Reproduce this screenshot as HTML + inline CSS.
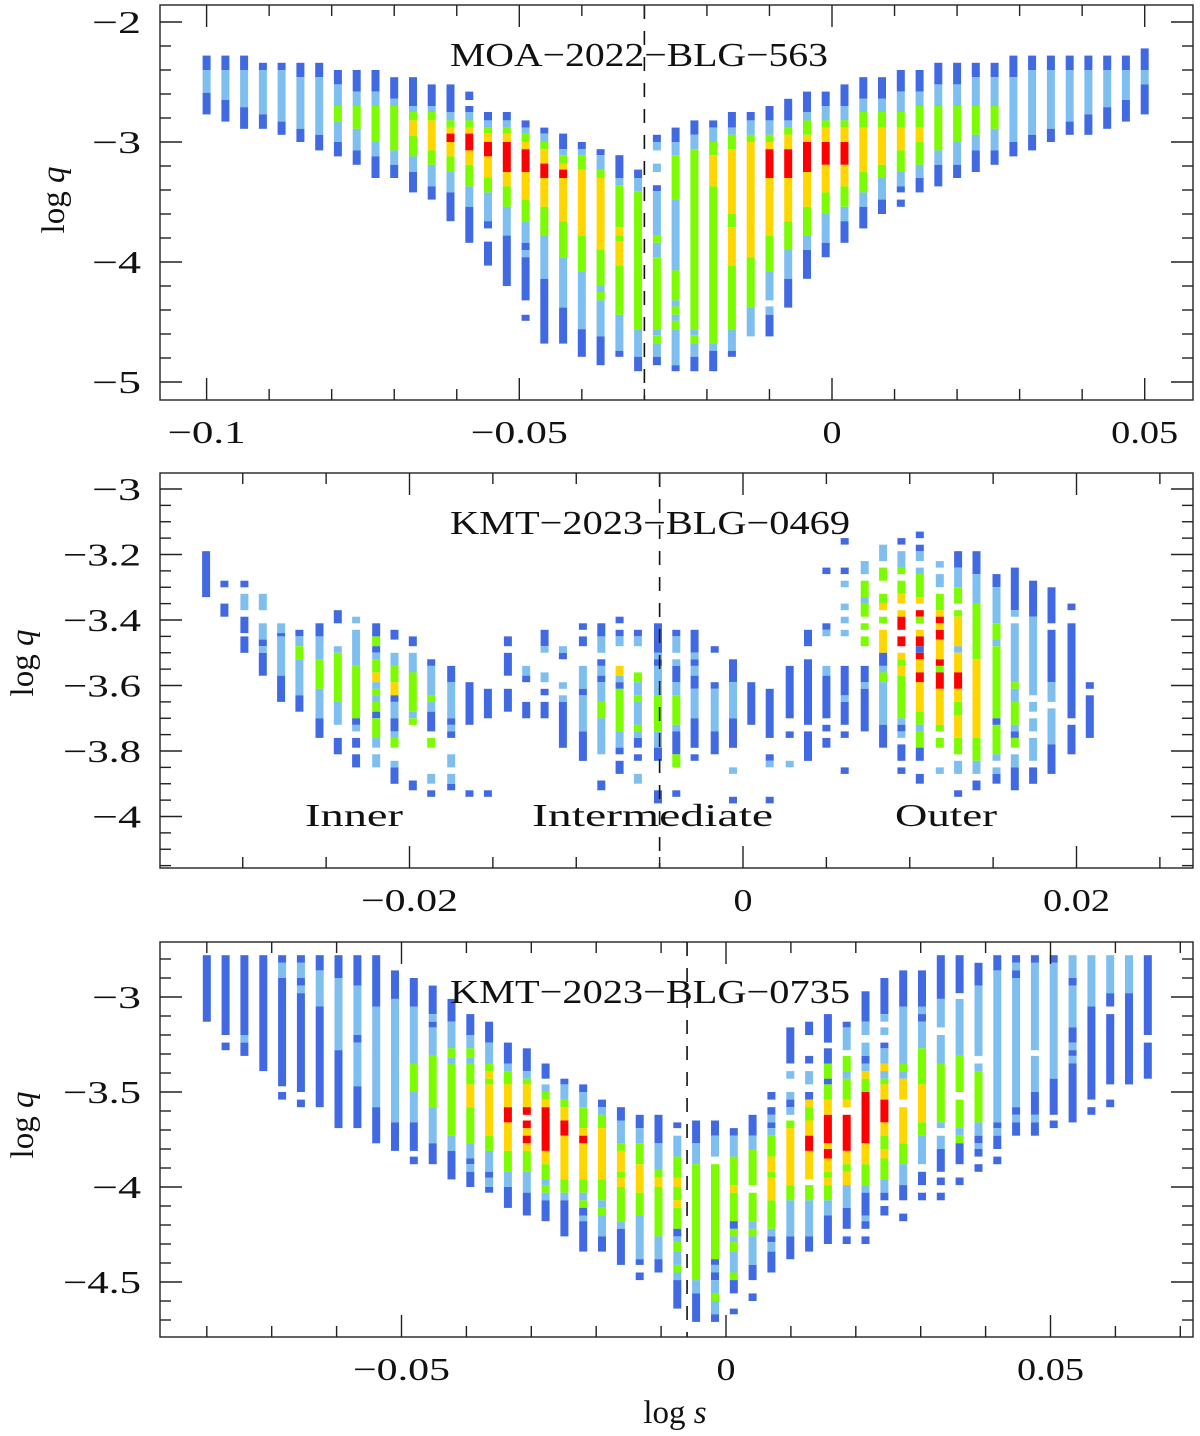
<!DOCTYPE html>
<html><head><meta charset="utf-8">
<style>
html,body{margin:0;padding:0;background:#fff;}
svg{display:block;}
text{font-family:"Liberation Serif",serif;fill:#111;}
</style></head>
<body>
<svg id="fig" width="1200" height="1436" viewBox="0 0 1200 1436" xmlns="http://www.w3.org/2000/svg"></svg>
<script>
// ---------- Panel 1: MOA-2022-BLG-563 ----------
const p1LogS = [-0.100,-0.097,-0.094,-0.091,-0.088,-0.085,-0.082,-0.079,-0.076,-0.073,-0.070,-0.067,-0.064,-0.061,-0.058,-0.055,-0.052,-0.049,-0.046,-0.043,-0.040,-0.037,-0.034,-0.031,-0.028,-0.025,-0.022,-0.019,-0.016,-0.013,-0.010,-0.007,-0.004,-0.001,0.002,0.005,0.008,0.011,0.014,0.017,0.020,0.023,0.026,0.029,0.032,0.035,0.038,0.041,0.044,0.047,0.050];
const p1Segments = [
[-2.28,'b',-2.40,'l',-2.59,'b',-2.77],
[-2.28,'b',-2.40,'l',-2.65,'b',-2.83],
[-2.28,'b',-2.40,'l',-2.71,'b',-2.89],
[-2.34,'b',-2.40,'l',-2.77,'b',-2.89],
[-2.34,'b',-2.40,'l',-2.83,'b',-2.94],
[-2.34,'b',-2.46,'l',-2.89,'b',-3.00],
[-2.34,'b',-2.46,'l',-2.94,'b',-3.07],
[-2.40,'b',-2.52,'l',-2.70,'g',-2.83,'l',-3.00,'b',-3.12],
[-2.40,'b',-2.58,'l',-2.70,'g',-2.89,'l',-3.07,'b',-3.19],
[-2.40,'b',-2.58,'l',-2.70,'g',-3.00,'l',-3.12,'b',-3.30],
[-2.46,'b',-2.64,'l',-2.70,'g',-3.07,'l',-3.19,'b',-3.30],
[-2.46,'b',-2.70,'l',-2.75,'g',-2.82,'y',-2.95,'g',-3.12,'l',-3.25,'b',-3.42],
[-2.52,'b',-2.70,'l',-2.75,'g',-2.82,'y',-3.07,'g',-3.19,'l',-3.37,'b',-3.48],
[-2.52,'b',-2.75,'l',-2.82,'g',-2.88,'y',-2.93,'r',-3.00,'y',-3.12,'g',-3.25,'l',-3.42,'b',-3.66],
[-2.58,'b',-2.65,'w',-2.70,'b',-2.75,'l',-2.82,'g',-2.88,'y',-2.93,'r',-3.07,'y',-3.19,'g',-3.37,'l',-3.54,'b',-3.84],
[-2.75,'b',-2.82,'l',-2.88,'g',-2.93,'y',-3.00,'r',-3.12,'y',-3.30,'g',-3.42,'l',-3.66,'b',-3.72,'w',-3.83,'b',-4.03],
[-2.75,'b',-2.82,'l',-2.88,'g',-2.93,'y',-3.00,'r',-3.25,'y',-3.37,'g',-3.54,'l',-3.78,'b',-4.20],
[-2.82,'b',-2.88,'l',-2.93,'g',-3.00,'y',-3.06,'r',-3.25,'y',-3.48,'g',-3.66,'l',-3.84,'b',-3.90,'l',-3.96,'b',-4.32,'w',-4.44,'b',-4.49],
[-2.88,'b',-2.93,'l',-3.00,'g',-3.06,'y',-3.18,'r',-3.30,'y',-3.54,'g',-3.78,'l',-4.14,'b',-4.68],
[-2.93,'b',-3.06,'l',-3.11,'g',-3.18,'y',-3.23,'r',-3.30,'y',-3.66,'g',-3.96,'l',-4.38,'b',-4.68],
[-3.00,'b',-3.06,'l',-3.11,'g',-3.23,'y',-3.78,'g',-4.08,'l',-4.56,'b',-4.79],
[-3.06,'b',-3.11,'l',-3.23,'g',-3.30,'y',-3.90,'g',-4.20,'l',-4.25,'g',-4.32,'l',-4.62,'b',-4.86],
[-3.11,'b',-3.30,'l',-3.36,'g',-3.71,'y',-3.78,'g',-3.83,'y',-4.03,'g',-4.44,'l',-4.74,'b',-4.79],
[-3.23,'b',-3.30,'l',-3.41,'g',-4.56,'l',-4.79,'b',-4.91],
[-2.94,'b',-3.00,'l',-3.07,'w',-3.18,'l',-3.25,'w',-3.36,'b',-3.41,'l',-3.78,'g',-3.84,'l',-3.96,'g',-4.56,'l',-4.61,'g',-4.68,'l',-4.79,'b',-4.86],
[-2.88,'b',-3.00,'l',-3.11,'g',-3.48,'l',-4.07,'g',-4.32,'l',-4.37,'g',-4.44,'l',-4.49,'g',-4.56,'l',-4.86,'b',-4.91],
[-2.82,'b',-2.94,'l',-3.06,'g',-4.56,'l',-4.61,'g',-4.68,'l',-4.79,'b',-4.91],
[-2.82,'b',-2.88,'l',-3.00,'g',-3.11,'y',-3.37,'g',-4.68,'l',-4.74,'b',-4.91],
[-2.75,'b',-2.88,'l',-2.94,'g',-3.06,'y',-3.60,'g',-3.71,'y',-4.03,'g',-4.56,'l',-4.74,'b',-4.79],
[-2.75,'b',-2.82,'l',-2.94,'g',-3.00,'y',-3.96,'g',-4.38,'l',-4.62],
[-2.70,'b',-2.82,'l',-2.94,'g',-3.00,'y',-3.06,'r',-3.30,'y',-3.78,'g',-4.08,'l',-4.32,'w',-4.37,'l',-4.44,'b',-4.62],
[-2.64,'b',-2.82,'l',-2.88,'g',-2.94,'y',-3.06,'r',-3.30,'y',-3.66,'g',-3.90,'l',-4.14,'b',-4.38],
[-2.58,'b',-2.75,'l',-2.82,'g',-2.94,'y',-3.00,'r',-3.25,'y',-3.54,'g',-3.78,'l',-3.90,'b',-4.14],
[-2.58,'b',-2.70,'l',-2.82,'g',-2.88,'y',-3.00,'r',-3.19,'y',-3.42,'g',-3.60,'l',-3.84,'b',-3.96],
[-2.52,'b',-2.70,'l',-2.82,'g',-2.88,'y',-3.00,'r',-3.19,'y',-3.37,'g',-3.54,'l',-3.66,'b',-3.84],
[-2.46,'b',-2.64,'l',-2.75,'g',-2.88,'y',-3.25,'g',-3.42,'l',-3.54,'b',-3.72],
[-2.46,'b',-2.64,'l',-2.75,'g',-2.88,'y',-3.19,'g',-3.30,'l',-3.48,'b',-3.60],
[-2.40,'b',-2.58,'l',-2.75,'g',-2.88,'y',-3.07,'g',-3.25,'l',-3.37,'b',-3.42,'w',-3.48,'b',-3.54],
[-2.40,'b',-2.58,'l',-2.70,'g',-2.88,'y',-3.00,'g',-3.19,'l',-3.30,'b',-3.42],
[-2.34,'b',-2.52,'l',-2.70,'g',-3.07,'l',-3.19,'b',-3.37],
[-2.34,'b',-2.52,'l',-2.70,'g',-3.00,'l',-3.19,'b',-3.30],
[-2.34,'b',-2.46,'l',-2.70,'g',-2.94,'l',-3.07,'b',-3.25],
[-2.34,'b',-2.46,'l',-2.70,'g',-2.89,'l',-3.07,'b',-3.19],
[-2.28,'b',-2.46,'l',-3.00,'b',-3.12],
[-2.28,'b',-2.40,'l',-2.94,'b',-3.07],
[-2.28,'b',-2.40,'l',-2.89,'b',-3.00],
[-2.28,'b',-2.40,'l',-2.83,'b',-2.94],
[-2.28,'b',-2.40,'l',-2.77,'b',-2.94],
[-2.28,'b',-2.40,'l',-2.71,'b',-2.89],
[-2.28,'b',-2.40,'l',-2.65,'b',-2.83],
[-2.22,'b',-2.40,'l',-2.52,'b',-2.77]
];
const p1XTicks = [-0.1,-0.05,0,0.05];
const p1XTickLabels = ['\u22120.1','\u22120.05','0','0.05'];
const p1YTicks = [-2,-3,-4,-5];
const p1YTickLabels = ['\u22122','\u22123','\u22124','\u22125'];

// ---------- Panel 2: KMT-2023-BLG-0469 ----------
const p2LogS = [-0.0322,-0.0311,-0.0299,-0.0288,-0.0277,-0.0266,-0.0254,-0.0243,-0.0232,-0.0220,-0.0209,-0.0198,-0.0187,-0.0175,-0.0164,-0.0153,-0.0141,-0.0130,-0.0119,-0.0108,-0.0096,-0.0085,-0.0074,-0.0063,-0.0051,-0.0040,-0.0029,-0.0017,-0.0006,0.0005,0.0016,0.0028,0.0039,0.0050,0.0061,0.0073,0.0084,0.0095,0.0106,0.0118,0.0129,0.0140,0.0152,0.0163,0.0174,0.0185,0.0197,0.0208];
const p2Segments = [
[-3.19,'b',-3.33],
[-3.28,'b',-3.30,'w',-3.35,'b',-3.39],
[-3.28,'b',-3.30,'w',-3.32,'l',-3.37,'w',-3.39,'b',-3.44,'w',-3.45,'b',-3.50],
[-3.32,'l',-3.37,'w',-3.41,'l',-3.46,'b',-3.48,'l',-3.50,'b',-3.57],
[-3.41,'l',-3.44,'b',-3.45,'l',-3.57,'b',-3.65],
[-3.43,'b',-3.45,'l',-3.48,'g',-3.52,'l',-3.63,'b',-3.68],
[-3.41,'b',-3.45,'l',-3.52,'g',-3.61,'l',-3.70,'b',-3.76],
[-3.37,'b',-3.41,'w',-3.48,'l',-3.50,'g',-3.65,'l',-3.72,'w',-3.76,'b',-3.81],
[-3.39,'l',-3.41,'w',-3.43,'l',-3.54,'g',-3.70,'b',-3.72,'l',-3.74,'w',-3.76,'b',-3.79,'w',-3.81,'b',-3.85],
[-3.41,'b',-3.45,'g',-3.48,'b',-3.50,'l',-3.52,'g',-3.56,'y',-3.59,'l',-3.61,'g',-3.63,'l',-3.65,'g',-3.68,'b',-3.70,'g',-3.76,'l',-3.79,'w',-3.81,'l',-3.85],
[-3.43,'b',-3.46,'w',-3.50,'l',-3.54,'g',-3.59,'y',-3.63,'b',-3.65,'l',-3.70,'b',-3.74,'l',-3.76,'g',-3.79,'w',-3.83,'l',-3.85,'b',-3.90],
[-3.45,'b',-3.48,'w',-3.50,'l',-3.56,'g',-3.68,'l',-3.70,'g',-3.72,'w',-3.89,'b',-3.92],
[-3.52,'b',-3.54,'l',-3.63,'g',-3.65,'l',-3.68,'b',-3.74,'w',-3.76,'g',-3.79,'w',-3.87,'l',-3.90,'w',-3.92,'b',-3.94],
[-3.54,'b',-3.59,'l',-3.70,'b',-3.72,'l',-3.74,'b',-3.76,'w',-3.81,'l',-3.85,'w',-3.87,'l',-3.90,'b',-3.92],
[-3.59,'b',-3.72,'w',-3.92,'b',-3.94],
[-3.61,'b',-3.70,'w',-3.92,'b',-3.94],
[-3.45,'b',-3.48,'w',-3.50,'b',-3.57,'w',-3.61,'b',-3.68],
[-3.54,'l',-3.57,'b',-3.59,'w',-3.65,'b',-3.70],
[-3.43,'b',-3.48,'l',-3.50,'w',-3.56,'l',-3.59,'w',-3.61,'b',-3.63,'w',-3.65,'b',-3.70],
[-3.48,'l',-3.50,'b',-3.52,'w',-3.59,'l',-3.61,'w',-3.63,'l',-3.65,'b',-3.79],
[-3.41,'b',-3.43,'w',-3.45,'b',-3.48,'w',-3.54,'l',-3.61,'b',-3.63,'l',-3.74,'b',-3.83],
[-3.41,'b',-3.45,'l',-3.50,'w',-3.52,'b',-3.54,'l',-3.57,'b',-3.59,'l',-3.65,'g',-3.70,'l',-3.81,'w',-3.89,'b',-3.92],
[-3.39,'b',-3.41,'w',-3.43,'b',-3.45,'l',-3.48,'w',-3.54,'y',-3.57,'l',-3.59,'b',-3.61,'g',-3.74,'l',-3.79,'b',-3.81,'w',-3.83,'b',-3.87],
[-3.43,'b',-3.45,'l',-3.48,'w',-3.56,'g',-3.59,'l',-3.63,'g',-3.65,'l',-3.72,'g',-3.74,'l',-3.76,'b',-3.79,'w',-3.81,'b',-3.83,'w',-3.87,'l',-3.90],
[-3.41,'b',-3.50,'l',-3.52,'b',-3.54,'l',-3.63,'g',-3.74,'l',-3.79,'b',-3.83,'w',-3.92,'b',-3.96],
[-3.43,'b',-3.45,'l',-3.50,'w',-3.52,'l',-3.54,'b',-3.59,'l',-3.63,'g',-3.72,'l',-3.74,'b',-3.81,'g',-3.85,'w',-3.92,'b',-3.94],
[-3.43,'b',-3.50,'l',-3.52,'b',-3.54,'l',-3.57,'b',-3.61,'l',-3.70,'b',-3.79,'w',-3.81,'b',-3.83],
[-3.48,'b',-3.50,'w',-3.59,'b',-3.61,'l',-3.74,'b',-3.81],
[-3.52,'b',-3.59,'l',-3.70,'b',-3.79,'w',-3.85,'l',-3.87,'w',-3.94,'b',-3.96],
[-3.59,'b',-3.72],
[-3.61,'b',-3.76,'w',-3.81,'b',-3.83,'l',-3.85,'w',-3.94,'b',-3.96],
[-3.54,'b',-3.70,'w',-3.74,'b',-3.76,'w',-3.83,'l',-3.85],
[-3.43,'b',-3.48,'w',-3.52,'b',-3.72,'w',-3.74,'b',-3.83],
[-3.24,'b',-3.26,'w',-3.41,'b',-3.43,'l',-3.45,'w',-3.54,'l',-3.57,'b',-3.70,'w',-3.72,'b',-3.74,'w',-3.76,'b',-3.79],
[-3.15,'b',-3.17,'w',-3.24,'b',-3.26,'w',-3.28,'l',-3.30,'w',-3.35,'l',-3.37,'w',-3.39,'l',-3.41,'w',-3.43,'l',-3.45,'w',-3.54,'b',-3.63,'l',-3.65,'b',-3.72,'w',-3.74,'b',-3.76,'w',-3.85,'b',-3.87],
[-3.22,'l',-3.26,'w',-3.28,'g',-3.33,'l',-3.35,'g',-3.39,'w',-3.41,'g',-3.43,'w',-3.45,'g',-3.48,'w',-3.54,'b',-3.59,'l',-3.61,'b',-3.74],
[-3.17,'l',-3.22,'w',-3.24,'g',-3.28,'w',-3.32,'g',-3.35,'y',-3.37,'w',-3.39,'g',-3.41,'w',-3.43,'y',-3.50,'b',-3.54,'l',-3.56,'g',-3.59,'l',-3.72,'b',-3.79],
[-3.15,'b',-3.17,'w',-3.19,'l',-3.24,'g',-3.26,'w',-3.28,'g',-3.32,'y',-3.35,'w',-3.37,'y',-3.39,'r',-3.43,'w',-3.45,'r',-3.48,'w',-3.50,'y',-3.52,'g',-3.54,'y',-3.57,'g',-3.70,'l',-3.72,'b',-3.74,'l',-3.76,'w',-3.78,'b',-3.83,'w',-3.85,'b',-3.87],
[-3.13,'b',-3.15,'w',-3.17,'b',-3.19,'l',-3.22,'w',-3.24,'l',-3.26,'g',-3.33,'y',-3.35,'w',-3.37,'r',-3.39,'g',-3.41,'w',-3.43,'y',-3.45,'r',-3.48,'b',-3.50,'r',-3.52,'y',-3.56,'r',-3.59,'y',-3.68,'g',-3.72,'l',-3.74,'g',-3.79,'b',-3.83,'w',-3.87,'b',-3.90],
[-3.22,'l',-3.24,'w',-3.26,'l',-3.30,'w',-3.32,'g',-3.37,'y',-3.39,'r',-3.41,'y',-3.43,'r',-3.46,'y',-3.52,'r',-3.54,'g',-3.56,'r',-3.61,'y',-3.72,'g',-3.74,'w',-3.76,'g',-3.79,'w',-3.85,'l',-3.87],
[-3.19,'b',-3.24,'l',-3.30,'g',-3.35,'w',-3.37,'g',-3.39,'y',-3.48,'l',-3.50,'y',-3.56,'r',-3.61,'y',-3.65,'g',-3.69,'y',-3.76,'g',-3.81,'w',-3.83,'l',-3.87,'w',-3.92,'b',-3.94],
[-3.19,'b',-3.26,'l',-3.35,'g',-3.52,'y',-3.76,'g',-3.83,'l',-3.87,'w',-3.89,'b',-3.92],
[-3.26,'b',-3.30,'l',-3.41,'g',-3.46,'l',-3.48,'g',-3.70,'b',-3.72,'g',-3.81,'l',-3.83,'w',-3.85,'l',-3.87,'b',-3.90],
[-3.24,'b',-3.37,'l',-3.39,'w',-3.41,'l',-3.59,'g',-3.61,'l',-3.65,'g',-3.72,'l',-3.74,'b',-3.76,'g',-3.79,'w',-3.81,'l',-3.85,'b',-3.92],
[-3.28,'b',-3.39,'l',-3.63,'w',-3.65,'l',-3.68,'w',-3.70,'l',-3.74,'w',-3.76,'l',-3.83,'w',-3.85,'b',-3.90],
[-3.30,'b',-3.41,'w',-3.43,'b',-3.59,'l',-3.65,'w',-3.67,'l',-3.78,'b',-3.87],
[-3.35,'b',-3.37,'w',-3.41,'b',-3.70,'w',-3.72,'b',-3.81],
[-3.59,'b',-3.61,'w',-3.63,'b',-3.76]
];
const p2XTicks = [-0.02,0,0.02];
const p2XTickLabels = ['\u22120.02','0','0.02'];
const p2YTicks = [-3,-3.2,-3.4,-3.6,-3.8,-4];
const p2YTickLabels = ['\u22123','\u22123.2','\u22123.4','\u22123.6','\u22123.8','\u22124'];

// ---------- Panel 3: KMT-2023-BLG-0735 ----------
const p3LogS = [-0.0800,-0.0771,-0.0742,-0.0713,-0.0684,-0.0655,-0.0626,-0.0597,-0.0568,-0.0539,-0.0510,-0.0481,-0.0452,-0.0423,-0.0394,-0.0365,-0.0336,-0.0307,-0.0278,-0.0249,-0.0220,-0.0191,-0.0162,-0.0133,-0.0104,-0.0075,-0.0046,-0.0017,0.0012,0.0041,0.0070,0.0099,0.0128,0.0157,0.0186,0.0215,0.0244,0.0273,0.0302,0.0331,0.0360,0.0389,0.0418,0.0447,0.0476,0.0505,0.0534,0.0563,0.0592,0.0621,0.0650];
const p3Segments = [
[-2.78,'b',-3.13],
[-2.78,'b',-3.20,'w',-3.24,'b',-3.28],
[-2.78,'b',-3.20,'l',-3.24,'b',-3.31],
[-2.78,'b',-3.39],
[-2.78,'b',-2.82,'l',-2.90,'b',-3.47,'w',-3.50,'b',-3.54],
[-2.78,'b',-2.82,'l',-2.90,'b',-2.94,'l',-2.98,'b',-3.50,'w',-3.54,'b',-3.58],
[-2.78,'b',-2.86,'l',-3.05,'b',-3.58],
[-2.78,'b',-2.90,'l',-3.28,'b',-3.69],
[-2.78,'b',-2.94,'l',-3.20,'b',-3.24,'l',-3.47,'b',-3.69],
[-2.78,'b',-3.05,'l',-3.58,'b',-3.77],
[-2.86,'b',-3.01,'l',-3.66,'b',-3.81],
[-2.90,'b',-3.05,'l',-3.35,'g',-3.50,'l',-3.66,'b',-3.81,'w',-3.84,'b',-3.88],
[-2.94,'b',-3.09,'l',-3.13,'b',-3.16,'l',-3.31,'g',-3.58,'l',-3.77,'b',-3.88],
[-3.01,'b',-3.13,'l',-3.27,'g',-3.32,'l',-3.35,'g',-3.73,'l',-3.81,'b',-3.96],
[-3.09,'b',-3.20,'l',-3.27,'g',-3.32,'l',-3.35,'g',-3.46,'y',-3.58,'g',-3.77,'l',-3.85,'b',-3.88,'l',-3.92,'b',-4.00],
[-3.13,'b',-3.24,'l',-3.35,'g',-3.39,'y',-3.43,'g',-3.46,'y',-3.73,'g',-3.81,'l',-3.92,'b',-3.95,'l',-4.00,'b',-4.03],
[-3.24,'b',-3.35,'l',-3.39,'g',-3.46,'y',-3.58,'r',-3.66,'y',-3.81,'g',-3.92,'l',-4.00,'b',-4.11],
[-3.27,'b',-3.39,'l',-3.43,'g',-3.46,'y',-3.58,'r',-3.62,'w',-3.65,'r',-3.69,'y',-3.73,'r',-3.77,'y',-3.81,'g',-3.92,'l',-4.03,'b',-4.15],
[-3.35,'b',-3.43,'w',-3.46,'l',-3.50,'g',-3.54,'y',-3.58,'r',-3.81,'y',-3.88,'g',-3.96,'l',-3.99,'g',-4.03,'l',-4.07,'b',-4.18],
[-3.43,'b',-3.46,'l',-3.54,'g',-3.58,'y',-3.65,'r',-3.73,'y',-3.96,'g',-4.03,'l',-4.07,'b',-4.26],
[-3.46,'b',-3.50,'l',-3.58,'g',-3.69,'y',-3.73,'r',-3.77,'y',-3.96,'g',-4.03,'l',-4.07,'g',-4.11,'b',-4.15,'l',-4.18,'b',-4.34],
[-3.54,'b',-3.58,'l',-3.62,'g',-3.69,'y',-3.96,'g',-4.07,'l',-4.11,'g',-4.15,'l',-4.26,'b',-4.34],
[-3.58,'b',-3.65,'l',-3.77,'g',-3.81,'y',-3.92,'g',-3.95,'y',-4.00,'g',-4.18,'l',-4.22,'b',-4.41],
[-3.62,'b',-3.69,'l',-3.77,'g',-3.88,'y',-4.03,'g',-4.15,'l',-4.38,'b',-4.41,'w',-4.45,'b',-4.49],
[-3.62,'b',-3.77,'l',-3.91,'g',-3.95,'y',-4.00,'g',-4.26,'l',-4.38,'b',-4.45],
[-3.66,'b',-3.69,'w',-3.73,'l',-3.84,'g',-3.95,'y',-4.00,'g',-4.07,'y',-4.11,'g',-4.22,'b',-4.26,'l',-4.29,'g',-4.34,'l',-4.41,'g',-4.45,'l',-4.49,'b',-4.64],
[-3.65,'b',-3.77,'l',-3.88,'g',-4.49,'l',-4.56,'b',-4.71],
[-3.65,'b',-3.73,'l',-3.84,'w',-3.88,'g',-4.38,'b',-4.41,'l',-4.45,'b',-4.49,'l',-4.56,'g',-4.60,'l',-4.67,'b',-4.71],
[-3.69,'b',-3.73,'l',-3.84,'g',-3.99,'y',-4.03,'g',-4.18,'b',-4.22,'g',-4.26,'l',-4.29,'g',-4.34,'l',-4.45,'g',-4.49,'b',-4.56,'w',-4.64,'b',-4.67],
[-3.62,'b',-3.73,'l',-3.80,'g',-3.99,'w',-4.03,'g',-4.18,'l',-4.22,'g',-4.26,'l',-4.41,'b',-4.49,'w',-4.56,'b',-4.60],
[-3.50,'b',-3.54,'w',-3.58,'b',-3.62,'l',-3.66,'b',-3.69,'l',-3.73,'g',-3.84,'y',-3.92,'g',-3.95,'y',-4.07,'g',-4.22,'l',-4.26,'b',-4.29,'l',-4.34,'b',-4.45],
[-3.16,'b',-3.35,'w',-3.39,'l',-3.43,'w',-3.50,'l',-3.54,'b',-3.58,'l',-3.62,'w',-3.65,'g',-3.69,'y',-3.99,'g',-4.07,'l',-4.26,'b',-4.38],
[-3.13,'b',-3.20,'w',-3.31,'b',-3.35,'w',-3.39,'l',-3.46,'w',-3.50,'b',-3.54,'y',-3.58,'g',-3.65,'y',-3.73,'r',-3.81,'y',-3.96,'w',-3.99,'g',-4.07,'l',-4.26,'b',-4.34],
[-3.09,'b',-3.24,'w',-3.27,'b',-3.35,'g',-3.43,'b',-3.46,'g',-3.54,'y',-3.62,'r',-3.77,'y',-3.80,'r',-3.85,'y',-3.92,'g',-3.95,'y',-3.99,'g',-4.07,'l',-4.15,'b',-4.30],
[-3.13,'b',-3.16,'l',-3.28,'w',-3.31,'g',-3.39,'l',-3.43,'g',-3.54,'y',-3.58,'w',-3.62,'r',-3.81,'y',-3.88,'g',-3.92,'y',-3.99,'l',-4.11,'b',-4.22,'w',-4.26,'b',-4.30],
[-2.97,'b',-3.13,'l',-3.20,'w',-3.24,'l',-3.31,'b',-3.35,'l',-3.39,'y',-3.43,'g',-3.50,'r',-3.77,'y',-3.88,'g',-3.99,'l',-4.03,'b',-4.15,'l',-4.18,'b',-4.22,'w',-4.26,'b',-4.30],
[-2.90,'b',-3.09,'l',-3.13,'w',-3.16,'l',-3.20,'w',-3.24,'b',-3.27,'l',-3.35,'y',-3.39,'l',-3.43,'g',-3.46,'y',-3.54,'r',-3.66,'y',-3.73,'g',-3.80,'y',-3.85,'g',-3.96,'l',-4.03,'b',-4.07,'w',-4.10,'b',-4.15],
[-2.86,'b',-3.05,'l',-3.35,'g',-3.39,'l',-3.43,'y',-3.54,'w',-3.58,'y',-3.77,'g',-3.88,'l',-3.99,'b',-4.07,'w',-4.14,'b',-4.18],
[-2.86,'b',-3.05,'l',-3.09,'b',-3.13,'l',-3.27,'g',-3.46,'y',-3.66,'g',-3.73,'l',-3.88,'w',-3.92,'b',-3.99,'w',-4.03,'b',-4.07],
[-2.78,'b',-3.01,'l',-3.16,'w',-3.20,'l',-3.35,'g',-3.66,'l',-3.69,'w',-3.73,'l',-3.80,'b',-3.92,'w',-3.95,'b',-3.99,'w',-4.03,'b',-4.07],
[-2.78,'b',-2.98,'w',-3.01,'l',-3.31,'g',-3.50,'w',-3.54,'g',-3.69,'l',-3.73,'g',-3.77,'b',-3.88,'w',-3.95,'b',-3.99],
[-2.82,'b',-2.94,'l',-3.31,'w',-3.35,'l',-3.39,'g',-3.66,'l',-3.73,'b',-3.77,'l',-3.80,'b',-3.84,'w',-3.88,'b',-3.92],
[-2.78,'b',-2.86,'l',-3.66,'b',-3.69,'l',-3.73,'b',-3.80,'w',-3.84,'b',-3.88],
[-2.78,'b',-2.82,'l',-2.86,'b',-2.90,'l',-3.58,'b',-3.62,'l',-3.66,'b',-3.73],
[-2.78,'b',-2.82,'l',-3.28,'w',-3.31,'l',-3.50,'b',-3.62,'l',-3.66,'b',-3.73],
[-2.78,'b',-2.82,'l',-3.43,'b',-3.62,'w',-3.65,'b',-3.69],
[-2.78,'l',-2.90,'b',-2.94,'l',-3.16,'b',-3.24,'l',-3.28,'b',-3.31,'l',-3.35,'b',-3.66],
[-2.78,'l',-3.05,'b',-3.54,'w',-3.58,'b',-3.62],
[-2.78,'l',-2.98,'b',-3.05,'w',-3.09,'b',-3.46,'w',-3.54,'b',-3.58],
[-2.78,'l',-2.98,'b',-3.46],
[-2.78,'b',-3.20,'w',-3.24,'b',-3.43]
];
const p3XTicks = [-0.05,0,0.05];
const p3XTickLabels = ['\u22120.05','0','0.05'];
const p3YTicks = [-3,-3.5,-4,-4.5];
const p3YTickLabels = ['\u22123','\u22123.5','\u22124','\u22124.5'];

const COLORS = {b:'#4169e1', l:'#7fbfef', g:'#7cfc00', y:'#ffd700', r:'#ff0000'};
const NS = 'http://www.w3.org/2000/svg';
const svg = document.getElementById('fig');

function mk(tag, attrs, parent){
  const e = document.createElementNS(NS, tag);
  for (const k in attrs) e.setAttribute(k, attrs[k]);
  (parent||svg).appendChild(e);
  return e;
}
// width of a numeric tick label in the reference typeface
function labW(s){
  let w = 0;
  for (const ch of s) w += ch === '\u2212' ? 30 : (ch === '.' ? 10 : 19);
  return w;
}

function drawPanel(P){
  const g = mk('g', {});
  
  
  const sx = v => P.x0px + (v - P.x0) * P.xk;
  const sy = v => P.y0px - (v - P.y0) * P.yk;
  const bars = mk('g', {}, g);
  
  
  P.xs.forEach((xv, i) => {
    const seg = P.segs[i];
    if (!seg) return;
    const cx = sx(xv);
    let prev = seg[0];
    for (let k = 1; k < seg.length; k += 2) {
      const c = seg[k], v = seg[k+1];
      if (c !== 'w') {
        const y1 = Math.max(sy(prev), P.top), y2 = Math.min(sy(v), P.bottom);
        if (y2 > y1) {
          const r = mk('rect', {x:(cx-4).toFixed(1), y:y1.toFixed(1), width:8, height:(y2-y1).toFixed(1), fill:COLORS[c]}, bars);
          
          
        }
      }
      prev = v;
    }
  });
  const dx = sx(P.dash);
  const dl = mk('line', {x1:dx, x2:dx, y1:P.top, y2:P.bottom, stroke:'#111', 'stroke-width':1.6, 'stroke-dasharray':'14,12'}, g);
  
  
  const fr = mk('rect', {x:P.left, y:P.top, width:P.right-P.left, height:P.bottom-P.top, fill:'none', stroke:'#222', 'stroke-width':1.4}, g);
  
  
  const tk = mk('g', {stroke:'#222', 'stroke-width':1.4}, g);
  
  
  const xmin = P.x0 + (P.left - P.x0px)/P.xk, xmax = P.x0 + (P.right - P.x0px)/P.xk;
  for (let n = Math.ceil(xmin/P.xminor - 1e-6); n*P.xminor <= xmax + 1e-9; n++) {
    const v = n*P.xminor, px = sx(v);
    const major = Math.abs(v/P.xmajor - Math.round(v/P.xmajor)) < 1e-6;
    const L = major ? 22 : 11;
    mk('line', {x1:px, x2:px, y1:P.bottom, y2:P.bottom-L}, tk);
    mk('line', {x1:px, x2:px, y1:P.top, y2:P.top+L}, tk);
  }
  const ymin = P.y0 - (P.bottom - P.y0px)/P.yk, ymax = P.y0 + (P.y0px - P.top)/P.yk;
  for (let n = Math.ceil(ymin/P.yminor - 1e-6); n*P.yminor <= ymax + 1e-9; n++) {
    const v = n*P.yminor, py = sy(v);
    const major = Math.abs(v/P.ymajor - Math.round(v/P.ymajor)) < 1e-6;
    const L = major ? 22 : 11;
    mk('line', {x1:P.left, x2:P.left+L, y1:py, y2:py}, tk);
    mk('line', {x1:P.right, x2:P.right-L, y1:py, y2:py}, tk);
  }
  P.xTicks.forEach((v, i) => {
    const s = P.xLabels[i];
    const t = mk('text', {x:sx(v), y:P.bottom+43, 'font-size':32, 'text-anchor':'middle', textLength:labW(s), lengthAdjust:'spacingAndGlyphs'}, g);
    t.textContent = s;
    
    
  });
  P.yTicks.forEach((v, i) => {
    const s = P.yLabels[i];
    const t = mk('text', {x:141, y:sy(v)+11, 'font-size':32, 'text-anchor':'end', textLength:labW(s), lengthAdjust:'spacingAndGlyphs'}, g);
    t.textContent = s;
    
    
  });
  const yt = mk('text', {x:0, y:0, 'font-size':33, 'text-anchor':'middle', transform:`translate(${P.ylabX},${P.ylabY}) rotate(-90)`}, g);
  yt.innerHTML = 'log <tspan font-style="italic">q</tspan>';
  
  
  const tt = mk('text', {x:P.titleX, y:P.titleY, 'font-size':34, 'textLength':P.titleW, 'lengthAdjust':'spacingAndGlyphs'}, g);
  tt.textContent = P.title;
  
  
  return {g, sx, sy};
}

drawPanel({name:'panel-moa-2022-blg-563', left:160, right:1193, top:5, bottom:400,
  x0:0, x0px:832, xk:6254, y0:-2, y0px:22, yk:120,
  xminor:0.01, xmajor:0.05, yminor:0.2, ymajor:1,
  xs:p1LogS, segs:p1Segments, dash:-0.03,
  xTicks:p1XTicks, xLabels:p1XTickLabels, yTicks:p1YTicks, yLabels:p1YTickLabels,
  ylabX:64, ylabY:200, title:'MOA\u22122022\u2212BLG\u2212563', titleX:450, titleY:66, titleW:378});

drawPanel({name:'panel-kmt-2023-blg-0469', left:160, right:1193, top:473, bottom:868,
  x0:0, x0px:743, xk:16675, y0:-3, y0px:489, yk:327.5,
  xminor:0.005, xmajor:0.02, yminor:0.05, ymajor:0.2,
  xs:p2LogS, segs:p2Segments, dash:-0.005,
  xTicks:p2XTicks, xLabels:p2XTickLabels, yTicks:p2YTicks, yLabels:p2YTickLabels,
  ylabX:33, ylabY:663, title:'KMT\u22122023\u2212BLG\u22120469', titleX:450, titleY:534, titleW:400});

[['Inner',305,98],['Intermediate',532,241],['Outer',895,102]].forEach(([s,x,w])=>{
  const t = mk('text', {x:x, y:826, 'font-size':32, textLength:w, lengthAdjust:'spacingAndGlyphs'});
  t.textContent = s;
  
  
});

drawPanel({name:'panel-kmt-2023-blg-0735', left:160, right:1193, top:942, bottom:1337,
  x0:0, x0px:726, xk:6490, y0:-3, y0px:997, yk:190,
  xminor:0.01, xmajor:0.05, yminor:0.1, ymajor:0.5,
  xs:p3LogS, segs:p3Segments, dash:-0.006,
  xTicks:p3XTicks, xLabels:p3XTickLabels, yTicks:p3YTicks, yLabels:p3YTickLabels,
  ylabX:33, ylabY:1125, title:'KMT\u22122023\u2212BLG\u22120735', titleX:450, titleY:1003, titleW:400});

const xt = mk('text', {x:675, y:1423, 'font-size':33, 'text-anchor':'middle'});
xt.innerHTML = 'log <tspan font-style="italic">s</tspan>';


</script>
</body></html>
